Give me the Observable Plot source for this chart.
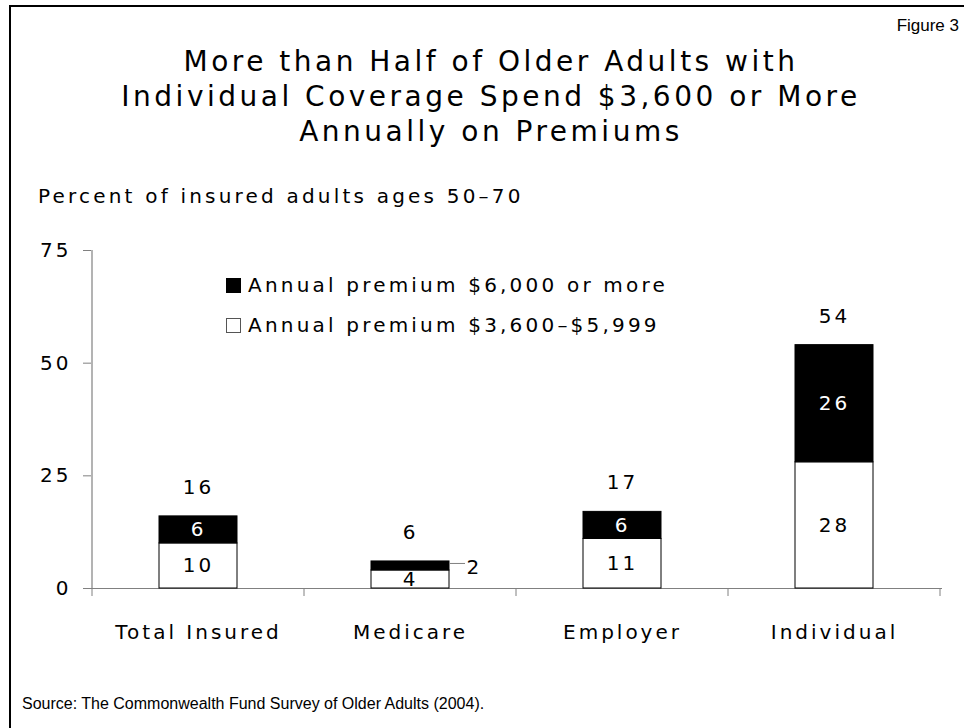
<!DOCTYPE html>
<html>
<head>
<meta charset="utf-8">
<script src="https://cdn.jsdelivr.net/npm/d3@7"></script>
<script src="https://cdn.jsdelivr.net/npm/@observablehq/plot@0.6"></script>
<style>
  body { margin: 0; background: #fff; }
  #wrap { position: relative; width: 964px; height: 728px; overflow: hidden; background: #fff; font-family: "DejaVu Sans", Verdana, sans-serif; color: #000; }
  #frame { position: absolute; left: 9px; top: 5px; width: 1200px; height: 1200px; border-left: 2px solid #000; border-top: 2px solid #000; }
  #fig { position: absolute; right: 5px; top: 16px; font: 17px/20px "Liberation Sans", Arial, sans-serif; }
  #title { position: absolute; left: 0; width: 982px; top: 44px; text-align: center; font-size: 28px; line-height: 35px; letter-spacing: 3.5px; }
  #ylab { position: absolute; left: 38px; top: 184px; font-size: 20px; line-height: 24px; letter-spacing: 3.2px; white-space: nowrap; }
  #legend { position: absolute; left: 226px; top: 265px; font-size: 20px; line-height: 40px; letter-spacing: 3.2px; white-space: nowrap; }
  #legend .sw { display: inline-block; width: 15px; height: 15px; box-sizing: border-box; vertical-align: -1px; margin-right: 7px; }
  #src { position: absolute; left: 22px; top: 694px; font: 16px/20px "Liberation Sans", Arial, sans-serif; white-space: nowrap; }
  #chart { position: absolute; left: 0; top: 220px; }
</style>
</head>
<body>
<div id="wrap">
  <div id="frame"></div>
  <div id="fig">Figure 3</div>
  <div id="title"></div>
  <div id="ylab"></div>
  <div id="legend"></div>
  <div id="chart"></div>
  <div id="src"></div>
</div>
<script>
// ---- data ----
const titleLines = ["More than Half of Older Adults with", "Individual Coverage Spend $3,600 or More", "Annually on Premiums"];
const yAxisTitle = "Percent of insured adults ages 50–70";
const sourceNote = "Source: The Commonwealth Fund Survey of Older Adults (2004).";
const categories = ["Total Insured", "Medicare", "Employer", "Individual"];
const seriesNames = ["Annual premium $3,600–$5,999", "Annual premium $6,000 or more"];
const premium3600to5999 = [10, 4, 11, 28];
const premium6000plus = [6, 2, 6, 26];
const totals = [16, 6, 17, 54];
const topLabelOutside = [false, true, false, false];
const yTicks = [0, 25, 50, 75];
const legendOrder = [seriesNames[1], seriesNames[0]];
const seriesColors = ["white", "black"];

// ---- text blocks ----
document.getElementById("title").innerHTML = titleLines.map(t => `<div>${t}</div>`).join("");
document.getElementById("ylab").textContent = yAxisTitle;
document.getElementById("src").textContent = sourceNote;
document.getElementById("legend").innerHTML = legendOrder.map(s => {
  const c = seriesColors[seriesNames.indexOf(s)];
  const sw = c === "black" ? "background:#000;" : "background:#fff;border:1px solid #555;";
  return `<div><span class="sw" style="${sw}"></span>${s}</div>`;
}).join("");

// ---- table ----
const rows = [];
categories.forEach((c, i) => {
  rows.push({category: c, series: seriesNames[0], value: premium3600to5999[i], outside: false});
  rows.push({category: c, series: seriesNames[1], value: premium6000plus[i], outside: topLabelOutside[i]});
});
const totalRows = categories.map((c, i) => ({category: c, total: totals[i]}));

const stackOpts = {x: "category", y: "value", z: "series", order: seriesNames};

const plot = Plot.plot({
  width: 964,
  height: 440,
  marginTop: 30,
  marginBottom: 72,
  marginLeft: 91,
  marginRight: 22,
  style: {fontFamily: "DejaVu Sans, Verdana, sans-serif", fontSize: "20px", letterSpacing: "3px", background: "transparent", color: "black", overflow: "visible"},
  x: {domain: categories, paddingInner: 0.63, paddingOuter: 0.315, label: null},
  y: {domain: [0, 75], label: null},
  color: {domain: seriesNames, range: seriesColors},
  marks: [
    Plot.axisY({ticks: yTicks, tickSize: 8, tickPadding: 12, stroke: "#808080", label: null, fontSize: 20}),
    Plot.axisX({tickSize: 0, tickPadding: 36, label: null, fontSize: 20}),
    Plot.ruleY([0], {stroke: "#808080", strokeWidth: 1.2}),
    Plot.barY(rows, Plot.stackY({...stackOpts, fill: "series", stroke: "black", strokeWidth: 1})),
    Plot.text(rows, Plot.stackY({...stackOpts, text: d => (d.series === seriesNames[1] && !d.outside) ? String(d.value) : "", fill: "white", fontSize: 20})),
    Plot.text(rows, Plot.stackY({...stackOpts, text: d => d.series === seriesNames[0] ? String(d.value) : "", fill: "black", fontSize: 20})),
    Plot.text(rows, Plot.stackY({...stackOpts, text: d => d.outside ? String(d.value) : "", fill: "black", textAnchor: "start", dx: 56, dy: 2, fontSize: 20})),
    Plot.text(totalRows, {x: "category", y: "total", text: d => String(d.total), dy: -29, fill: "black", fontSize: 20})
  ]
});

document.getElementById("chart").appendChild(plot);

// ---- axis line, band-boundary ticks and leader line, derived from the plot's scales ----
const sx = plot.scale("x");
const sy = plot.scale("y");
const yPos = v => sy.apply ? sy.apply(v) : (sy.range[0] + (v - sy.domain[0]) * (sy.range[1] - sy.range[0]) / (sy.domain[1] - sy.domain[0]));
const bw = sx.bandwidth;
const step = sx.step;
const xStart = c => sx.apply ? sx.apply(c) : (sx.range[0] + (step - bw) / 2 + categories.indexOf(c) * step);
const svg = d3.select(plot);
const y0 = yPos(0);
const yTop = yPos(yTicks[yTicks.length - 1]);
const boundaries = categories.map(c => xStart(c) - (step - bw) / 2);
boundaries.push(xStart(categories[categories.length - 1]) + bw + (step - bw) / 2);
svg.append("line")
  .attr("x1", boundaries[0]).attr("x2", boundaries[0])
  .attr("y1", yTop).attr("y2", y0)
  .attr("stroke", "#808080").attr("stroke-width", 1.2);
svg.append("g").selectAll("line").data(boundaries).join("line")
  .attr("x1", d => d).attr("x2", d => d)
  .attr("y1", y0).attr("y2", y0 + 8)
  .attr("stroke", "#808080");
rows.filter(d => d.outside).forEach(d => {
  const i = categories.indexOf(d.category);
  const base = premium3600to5999[i];
  const ym = yPos(base + d.value / 2) - 2;
  const xr = xStart(d.category) + bw;
  svg.append("line").attr("x1", xr).attr("x2", xr + 16).attr("y1", ym).attr("y2", ym).attr("stroke", "#808080");
});
</script>
</body>
</html>
